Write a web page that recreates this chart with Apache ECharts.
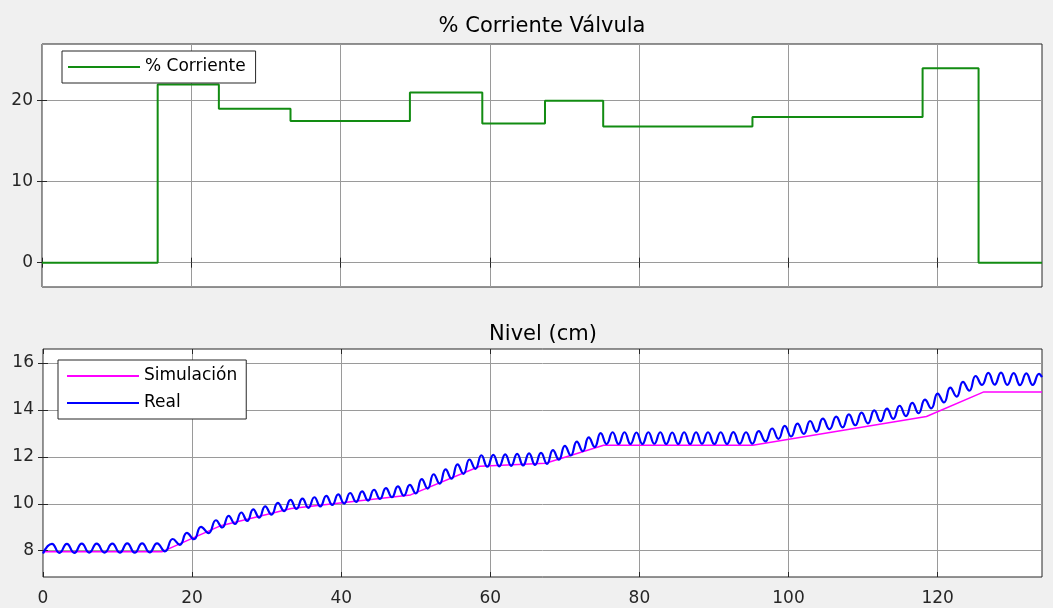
<!DOCTYPE html>
<html>
<head>
<meta charset="utf-8">
<title>Corriente Válvula / Nivel</title>
<script src="https://cdn.jsdelivr.net/npm/echarts@6/dist/echarts.min.js"></script>
<style>
  html, body { margin: 0; padding: 0; background: #f0f0f0; }
  #chart { width: 1053px; height: 608px; }
</style>
</head>
<body>
<div id="chart"></div>
<script>
// ---- Valve current (%) : piecewise-constant command ----
const currentChangeTimes = [0, 15.5, 23.7, 33.3, 49.3, 59.0, 67.4, 75.2, 95.2, 118.0, 125.5, 134];
const currentLevels      = [0, 22, 19, 17.5, 21, 17.2, 20, 16.8, 18, 24, 0];

// ---- Tank level (cm) : simulated model, breakpoints ----
const simTimes  = [0, 16, 23.7, 33.3, 49.3, 58.6, 67.4, 75.2, 95.2, 118.5, 126.2, 134];
const simLevels = [7.96, 7.96, 9.05, 9.8, 10.38, 11.6, 11.73, 12.5, 12.5, 13.72, 14.77, 14.77];

// ---- Tank level (cm) : measured signal, successive peaks and troughs [t, cm] ----
const realLevel = [
  [0,7.88],[1.2,8.29],[2.2,7.91],[3.2,8.29],[4.2,7.91],[5.2,8.30],[6.2,7.92],[7.2,8.30],
  [8.25,7.92],[9.3,8.30],[10.3,7.92],[11.3,8.31],[12.3,7.92],[13.3,8.31],[14.3,7.93],[15.3,8.31],
  [16.35,7.97],[17.4,8.50],[18.35,8.25],[19.3,8.76],[20.25,8.49],[21.2,9.02],[22.2,8.75],[23.2,9.30],
  [24.05,8.99],[24.9,9.49],[25.75,9.14],[26.6,9.63],[27.4,9.27],[28.2,9.76],[29.0,9.41],[29.8,9.89],
  [30.65,9.54],[31.5,10.04],[32.35,9.69],[33.2,10.17],[34.0,9.78],[34.8,10.22],[35.6,9.83],[36.4,10.28],
  [37.2,9.89],[38.0,10.34],[38.8,9.95],[39.6,10.40],[40.4,10.01],[41.2,10.46],[42.0,10.08],[42.8,10.53],
  [43.6,10.14],[44.4,10.60],[45.2,10.21],[46.0,10.67],[46.8,10.28],[47.6,10.74],[48.4,10.35],[49.2,10.81],
  [50.0,10.44],[50.8,11.05],[51.6,10.65],[52.4,11.26],[53.2,10.86],[54.0,11.47],[54.8,11.07],[55.6,11.68],
  [56.4,11.28],[57.2,11.89],[58.0,11.49],[58.8,12.07],[59.6,11.58],[60.4,12.09],[61.2,11.60],[62.0,12.11],
  [62.8,11.62],[63.6,12.13],[64.4,11.64],[65.2,12.15],[66.0,11.66],[66.8,12.17],[67.6,11.70],[68.4,12.29],
  [69.2,11.88],[70.0,12.47],[70.8,12.06],[71.6,12.65],[72.4,12.24],[73.2,12.83],[74.0,12.42],[74.8,13.01],
  [75.6,12.55],[76.4,13.05],[77.2,12.55],[78.0,13.05],[78.8,12.55],[79.6,13.04],[80.4,12.55],[81.2,13.05],
  [82.0,12.56],[82.8,13.05],[83.6,12.55],[84.4,13.04],[85.2,12.55],[86.0,13.05],[86.8,12.55],[87.6,13.05],
  [88.4,12.56],[89.2,13.05],[90.05,12.55],[90.9,13.05],[91.75,12.55],[92.6,13.06],[93.45,12.56],[94.3,13.05],
  [95.15,12.56],[96.0,13.10],[96.9,12.66],[97.8,13.21],[98.65,12.77],[99.5,13.32],[100.35,12.87],[101.2,13.42],
  [102.05,12.98],[102.9,13.53],[103.75,13.08],[104.6,13.63],[105.5,13.18],[106.4,13.72],[107.25,13.26],[108.1,13.81],
  [108.95,13.35],[109.8,13.89],[110.65,13.43],[111.5,13.98],[112.35,13.52],[113.2,14.06],[114.05,13.62],[114.9,14.18],
  [115.75,13.74],[116.6,14.30],[117.45,13.86],[118.3,14.44],[119.15,14.07],[120.0,14.70],[120.85,14.32],[121.7,14.95],
  [122.55,14.57],[123.4,15.20],[124.25,14.82],[125.1,15.45],[125.95,15.07],[126.8,15.58],[127.65,15.08],[128.5,15.59],
  [129.35,15.07],[130.2,15.57],[131.05,15.06],[131.9,15.56],[132.75,15.07],[133.6,15.54],[134,15.40]
];

// ---- Axis ranges and tick labels ----
const timeRange    = [0, 134];
const timeTicks    = [0, 20, 40, 60, 80, 100, 120];
const currentRange = [-3, 27];
const currentTicks = [0, 10, 20];
const levelRange   = [6.88, 16.6];
const levelTicks   = [8, 10, 12, 14, 16];

// step series built from the change times
const currentData = [];
for (let i = 0; i < currentLevels.length; i++) {
  currentData.push([currentChangeTimes[i], currentLevels[i]]);
  currentData.push([currentChangeTimes[i + 1], currentLevels[i]]);
}
const simData = simTimes.map((t, i) => [t, simLevels[i]]);

const FONT = 'DejaVu Sans';
const INK = '#262626';
const GRIDLINE = '#9a9a9a';
const GREEN = '#128c12';
const MAGENTA = '#ff00ff';
const BLUE = '#0000ff';

function axis(kind, gridIndex, range, ticks, opts) {
  const o = Object.assign({ showLabels: false, position: undefined, split: false }, opts || {});
  return {
    type: 'value',
    gridIndex: gridIndex,
    position: o.position,
    min: range[0],
    max: range[1],
    axisLine: { show: false },
    axisTick: {
      show: true, inside: true, length: 5,
      lineStyle: { color: INK, width: 1 },
      customValues: ticks
    },
    axisLabel: {
      show: o.showLabels,
      customValues: ticks,
      color: INK,
      fontFamily: FONT,
      fontSize: 17,
      margin: kind === 'x' ? 13 : 9
    },
    splitLine: {
      show: o.split,
      lineStyle: { color: GRIDLINE, width: 1 }
    }
  };
}

function legendBox(names, left, top, padding) {
  return {
    data: names,
    left: left, top: top,
    orient: 'vertical',
    itemGap: 7,
    padding: padding,
    icon: 'rect',
    itemWidth: 72, itemHeight: 2,
    backgroundColor: '#ffffff',
    borderColor: INK, borderWidth: 1, borderRadius: 0,
    textStyle: { fontFamily: FONT, fontSize: 17, lineHeight: 20, color: '#000' }
  };
}

const chart = echarts.init(document.getElementById('chart'), null, { renderer: 'canvas' });

chart.setOption({
  animation: false,
  backgroundColor: '#f0f0f0',
  textStyle: { fontFamily: FONT },
  title: [
    {
      text: '% Corriente Válvula',
      left: 537, top: 11, textAlign: 'center',
      textStyle: { fontFamily: FONT, fontSize: 21, fontWeight: 'normal', color: '#000' }
    },
    {
      text: 'Nivel (cm)',
      left: 538, top: 319, textAlign: 'center',
      textStyle: { fontFamily: FONT, fontSize: 21, fontWeight: 'normal', color: '#000' }
    }
  ],
  legend: [
    legendBox(['% Corriente'], 62, 51, [6, 10, 6, 6]),
    legendBox(['Simulación', 'Real'], 58, 360, [6, 9, 6, 9])
  ],
  grid: [
    { left: 42, right: 11, top: 44, height: 243, show: true, backgroundColor: '#ffffff', borderColor: INK, borderWidth: 1 },
    { left: 43, right: 11, top: 349, height: 228, show: true, backgroundColor: '#ffffff', borderColor: INK, borderWidth: 1 }
  ],
  xAxis: [
    axis('x', 0, timeRange, timeTicks, { position: 'bottom', split: true }),
    axis('x', 0, timeRange, timeTicks, { position: 'top' }),
    axis('x', 1, timeRange, timeTicks, { position: 'bottom', split: true, showLabels: true }),
    axis('x', 1, timeRange, timeTicks, { position: 'top' })
  ],
  yAxis: [
    axis('y', 0, currentRange, currentTicks, { position: 'left', split: true, showLabels: true }),
    axis('y', 0, currentRange, currentTicks, { position: 'right' }),
    axis('y', 1, levelRange, levelTicks, { position: 'left', split: true, showLabels: true }),
    axis('y', 1, levelRange, levelTicks, { position: 'right' })
  ],
  series: [
    {
      name: '% Corriente',
      type: 'line',
      xAxisIndex: 0, yAxisIndex: 0,
      data: currentData,
      symbol: 'none',
      lineStyle: { color: GREEN, width: 2 },
      itemStyle: { color: GREEN },
      silent: true
    },
    {
      name: 'Simulación',
      type: 'line',
      xAxisIndex: 2, yAxisIndex: 2,
      data: simData,
      symbol: 'none',
      lineStyle: { color: MAGENTA, width: 1.5 },
      itemStyle: { color: MAGENTA },
      silent: true
    },
    {
      name: 'Real',
      type: 'line',
      xAxisIndex: 2, yAxisIndex: 2,
      data: realLevel,
      symbol: 'none',
      smooth: 0.5,
      lineStyle: { color: BLUE, width: 2.2 },
      itemStyle: { color: BLUE },
      silent: true
    }
  ]
});
</script>
</body>
</html>
